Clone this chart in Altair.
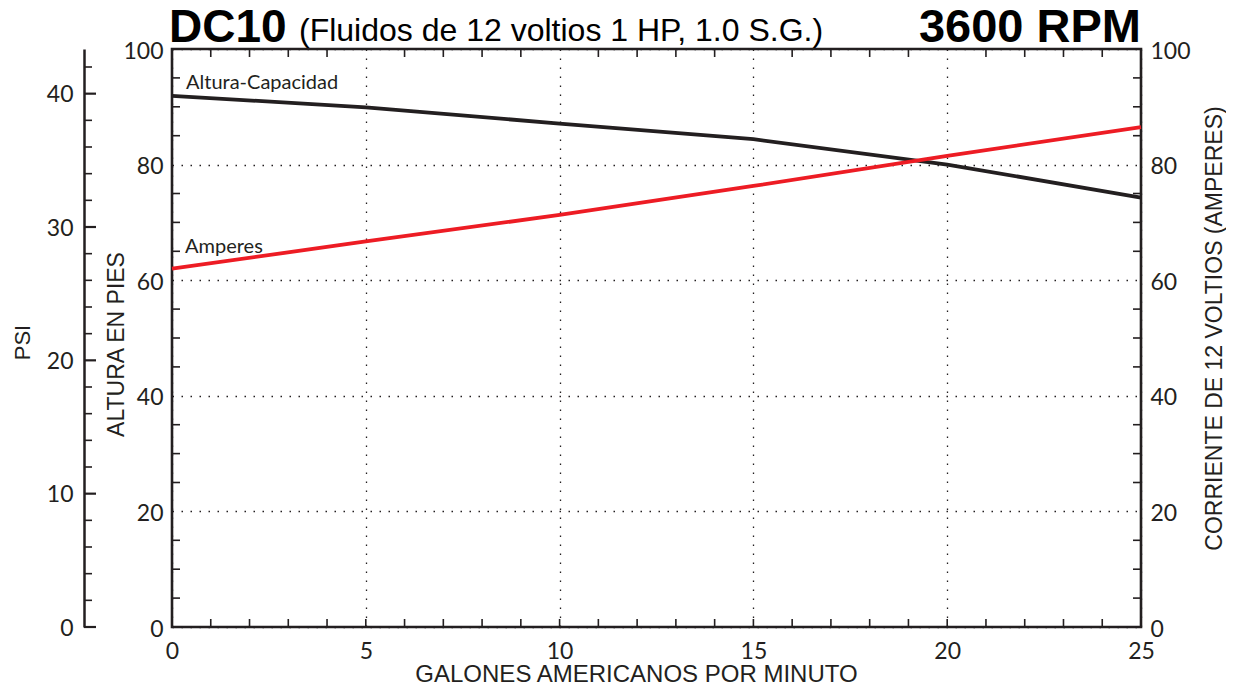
import altair as alt
import pandas as pd

# ---- data ----
GPM = [0, 5, 10, 15, 20, 25]
HEAD_FT = [91.9, 89.9, 87.1, 84.4, 80.0, 74.3]
AMPS = [62.0, 66.7, 71.3, 76.3, 81.5, 86.5]

X_LABELS = [0, 5, 10, 15, 20, 25]
FT_LABELS = [0, 20, 40, 60, 80, 100]
AMP_LABELS = [0, 20, 40, 60, 80, 100]
PSI_LABELS = [0, 10, 20, 30, 40]
PSI_MAX = 43.35

X_TICKS_BOTTOM = list(range(0, 26))
X_TICKS_TOP = [v for v in range(1, 25) if v % 5]
Y_TICKS = [v for v in range(5, 100, 5) if v % 20]
PSI_MAJOR = [0, 10, 20, 30, 40]
PSI_MINOR = [v for v in range(2, 43, 2) if v % 10]

TITLE = "DC10"
SUBTITLE = "(Fluidos de 12 voltios 1 HP, 1.0 S.G.)"
RPM = "3600 RPM"

BLACK = "#231f20"
RED = "#ed1c24"
W, H = 969, 578
LAB_FONT = "Lato"
TIT_FONT = "Liberation Sans"

df = pd.DataFrame({"gpm": GPM, "head": HEAD_FT, "amps": AMPS})

xs = alt.Scale(domain=[0, 25], nice=False, zero=False)
ys = alt.Scale(domain=[0, 100], nice=False, zero=False)
ps = alt.Scale(domain=[0, PSI_MAX], nice=False, zero=False)

grid_dash = [1.5, 7.5]

x_axis = alt.Axis(
    orient="bottom", values=X_LABELS, domain=False, ticks=False,
    grid=True, gridDash=grid_dash, gridColor=BLACK, gridWidth=1.3,
    labelFont=LAB_FONT, labelFontSize=23, labelColor=BLACK,
    labelBaseline="alphabetic", labelPadding=31, labelFlush=False, labelOverlap=False,
    title="GALONES AMERICANOS POR MINUTO", titleFont=TIT_FONT, titleFontSize=24,
    titleFontWeight="normal", titleColor=BLACK, titleX=464, titleY=54,
    titleBaseline="alphabetic", titleAlign="center",
)
ft_axis = alt.Axis(
    orient="left", values=FT_LABELS, domain=False, ticks=False,
    grid=True, gridDash=grid_dash, gridColor=BLACK, gridWidth=1.3,
    labelFont=LAB_FONT, labelFontSize=23, labelColor=BLACK, labelPadding=9,
    labelBaseline="middle", labelOffset=2, labelFlush=False, labelOverlap=False,
    title="ALTURA EN PIES", titleFont=TIT_FONT, titleFontSize=23,
    titleFontWeight="normal", titleColor=BLACK, titleX=-56, titleY=295,
    titleAngle=270, titleBaseline="middle", titleAlign="center",
)
amp_axis = alt.Axis(
    orient="right", values=AMP_LABELS, domain=False, ticks=False, grid=False,
    labelFont=LAB_FONT, labelFontSize=23, labelColor=BLACK, labelPadding=9,
    labelBaseline="middle", labelOffset=2, labelFlush=False, labelOverlap=False,
    title="CORRIENTE DE 12 VOLTIOS (AMPERES)", titleFont=TIT_FONT, titleFontSize=23,
    titleFontWeight="normal", titleColor=BLACK, titleX=73, titleY=279,
    titleAngle=270, titleBaseline="middle", titleAlign="center",
)
psi_axis = alt.Axis(
    orient="left", offset=88, values=PSI_LABELS, domain=True, domainColor=BLACK,
    domainWidth=2.5, ticks=False, grid=False,
    labelFont=LAB_FONT, labelFontSize=23, labelColor=BLACK, labelPadding=11,
    labelBaseline="middle", labelOffset=1, labelFlush=False, labelOverlap=False,
    title="PSI", titleFont=TIT_FONT, titleFontSize=22,
    titleFontWeight="normal", titleColor=BLACK, titleX=-62, titleY=293,
    titleAngle=270, titleBaseline="middle", titleAlign="center",
)

head_line = alt.Chart(df).mark_line(color=BLACK, strokeWidth=3.8).encode(
    x=alt.X("gpm:Q", scale=xs, axis=x_axis),
    y=alt.Y("head:Q", scale=ys, axis=ft_axis),
)
amp_line = alt.Chart(df).mark_line(color=RED, strokeWidth=3.8).encode(
    x=alt.X("gpm:Q", scale=xs, axis=None),
    y=alt.Y("amps:Q", scale=ys, axis=amp_axis),
)

psi_major = alt.Chart(pd.DataFrame({"psi": PSI_MAJOR})).mark_rule(
    color=BLACK, strokeWidth=2.2).encode(
    y=alt.Y("psi:Q", scale=ps, axis=psi_axis),
    x=alt.value(-88), x2=alt.value(-76),
)
psi_minor = alt.Chart(pd.DataFrame({"psi": PSI_MINOR})).mark_rule(
    color=BLACK, strokeWidth=1.6).encode(
    y=alt.Y("psi:Q", scale=ps, axis=None),
    x=alt.value(-88), x2=alt.value(-80),
)

bottom_ticks = alt.Chart(pd.DataFrame({"g": X_TICKS_BOTTOM})).mark_rule(
    color=BLACK, strokeWidth=1.6).encode(
    x=alt.X("g:Q", scale=xs, axis=None), y=alt.value(H), y2=alt.value(H - 8))
top_ticks = alt.Chart(pd.DataFrame({"g": X_TICKS_TOP})).mark_rule(
    color=BLACK, strokeWidth=1.6).encode(
    x=alt.X("g:Q", scale=xs, axis=None), y=alt.value(0), y2=alt.value(8))
left_ticks = alt.Chart(pd.DataFrame({"v": Y_TICKS})).mark_rule(
    color=BLACK, strokeWidth=1.6).encode(
    y=alt.Y("v:Q", scale=ys, axis=None), x=alt.value(0), x2=alt.value(8))
right_ticks = alt.Chart(pd.DataFrame({"v": Y_TICKS})).mark_rule(
    color=BLACK, strokeWidth=1.6).encode(
    y=alt.Y("v:Q", scale=ys, axis=None), x=alt.value(W), x2=alt.value(W - 8))

first = df.iloc[[0]]
head_label = alt.Chart(first).mark_text(
    text="Altura-Capacidad", align="left", baseline="alphabetic",
    dx=14, dy=-7, font=LAB_FONT, fontSize=20, color=BLACK).encode(
    x=alt.X("gpm:Q", scale=xs, axis=None), y=alt.Y("head:Q", scale=ys, axis=None))
amp_label = alt.Chart(first).mark_text(
    text="Amperes", align="left", baseline="alphabetic",
    dx=13, dy=-16, font=LAB_FONT, fontSize=20, color=BLACK).encode(
    x=alt.X("gpm:Q", scale=xs, axis=None), y=alt.Y("amps:Q", scale=ys, axis=None))

one = pd.DataFrame({"a": [0]})
t_main = alt.Chart(one).mark_text(
    text=TITLE, align="left", baseline="alphabetic", font=TIT_FONT,
    fontSize=46, fontWeight="bold", color="#000000").encode(
    x=alt.value(-3), y=alt.value(-7))
t_sub = alt.Chart(one).mark_text(
    text=SUBTITLE, align="left", baseline="alphabetic", font=TIT_FONT,
    fontSize=32, color="#000000").encode(
    x=alt.value(127), y=alt.value(-8))
t_rpm = alt.Chart(one).mark_text(
    text=RPM, align="right", baseline="alphabetic", font=TIT_FONT,
    fontSize=47, fontWeight="bold", color="#000000").encode(
    x=alt.value(W), y=alt.value(-7))

chart = alt.layer(
    head_line, amp_line, psi_major, psi_minor,
    bottom_ticks, top_ticks, left_ticks, right_ticks,
    head_label, amp_label, t_main, t_sub, t_rpm,
).resolve_scale(
    x="independent", y="independent"
).properties(
    width=W, height=H,
    padding={"left": 164, "top": 41, "right": 85, "bottom": 56},
    autosize=alt.AutoSizeParams(type="none"),
    background="white",
).configure_view(
    stroke=BLACK, strokeWidth=2.6
)

chart.save("out.html", embed_options={"renderer": "svg", "actions": False})
